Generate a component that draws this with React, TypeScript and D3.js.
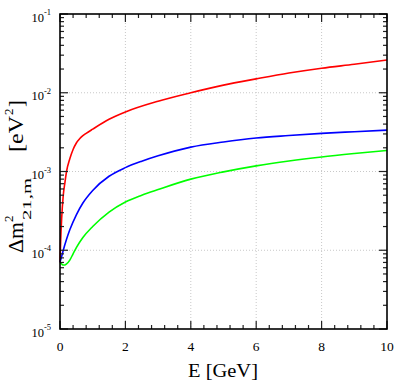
import React from "react";
import * as d3 from "d3";

// energy grid (GeV) and values of Δm²_21,m (eV²)
const energyRed = [0, 0.02, 0.05, 0.1, 0.15, 0.2, 0.3, 0.4, 0.5, 0.6, 0.7, 0.8, 1, 1.5, 2, 3, 4, 5, 6, 7, 8, 9, 10];
const redValues = [7e-5, 1.3e-4, 2.5e-4, 5e-4, 7.2e-4, 1e-3, 1.45e-3, 1.9e-3, 2.3e-3, 2.6e-3, 2.85e-3, 3.05e-3, 3.45e-3, 4.6e-3, 5.7e-3, 7.8e-3, 1.0e-2, 1.25e-2, 1.5e-2, 1.78e-2, 2.05e-2, 2.3e-2, 2.6e-2];

const energyBlue = [0, 0.05, 0.1, 0.2, 0.3, 0.5, 0.7, 1, 1.5, 2, 2.5, 3, 4, 5, 6, 7, 8, 9, 10];
const blueValues = [7.1e-5, 8.3e-5, 1.0e-4, 1.38e-4, 1.82e-4, 2.82e-4, 3.98e-4, 5.75e-4, 8.7e-4, 1.12e-3, 1.35e-3, 1.58e-3, 2.04e-3, 2.37e-3, 2.66e-3, 2.86e-3, 3.05e-3, 3.2e-3, 3.35e-3];

const energyGreen = [0, 0.05, 0.1, 0.15, 0.2, 0.3, 0.4, 0.5, 0.7, 1, 1.5, 2, 2.5, 3, 4, 5, 6, 7, 8, 9, 10];
const greenValues = [7e-5, 6.7e-5, 6.5e-5, 6.5e-5, 6.7e-5, 7.5e-5, 9e-5, 1.08e-4, 1.45e-4, 2.0e-4, 3.05e-4, 4.1e-4, 5.0e-4, 5.9e-4, 8.0e-4, 9.9e-4, 1.18e-3, 1.36e-3, 1.53e-3, 1.69e-3, 1.85e-3];

const xTicks = [0, 2, 4, 6, 8, 10];
const yDecades = [-5, -4, -3, -2, -1];

const series = [
  { x: energyRed, y: redValues, color: "#ff0000" },
  { x: energyBlue, y: blueValues, color: "#0000ff" },
  { x: energyGreen, y: greenValues, color: "#00ff00" },
];

const width = 407;
const height = 382;
const left = 60;
const right = 387;
const top = 14;
const bottom = 329;

export default function App() {
  const x = d3.scaleLinear().domain([0, 10]).range([left, right]);
  const y = d3.scaleLog().domain([1e-5, 1e-1]).range([bottom, top]);

  const line = d3
    .line<[number, number]>()
    .x((d) => x(d[0]))
    .y((d) => y(d[1]))
    .curve(d3.curveMonotoneX);

  const xMinor = d3.range(0, 10.001, 0.4).filter((v) => Math.abs(v / 2 - Math.round(v / 2)) > 1e-6);
  const yMinor: number[] = [];
  yDecades.slice(0, -1).forEach((d) => {
    for (let k = 2; k <= 9; k++) yMinor.push(k * Math.pow(10, d));
  });

  const font = "'Liberation Serif', 'DejaVu Serif', serif";
  const tickColor = "#222";

  return (
    <svg width={width} height={height} style={{ position: "absolute", left: 0, top: 0, background: "#fff" }}>
      {/* grid */}
      <g stroke="#c8c8c8" strokeWidth={1} strokeDasharray="1,2">
        {xTicks.slice(1, -1).map((t) => (
          <line key={"gx" + t} x1={x(t)} x2={x(t)} y1={top} y2={bottom} />
        ))}
        {yDecades.slice(1, -1).map((d) => (
          <line key={"gy" + d} x1={left} x2={right} y1={y(Math.pow(10, d))} y2={y(Math.pow(10, d))} />
        ))}
      </g>

      {/* curves */}
      {series.map((s, i) => (
        <path
          key={i}
          d={line(s.x.map((v, j) => [v, s.y[j]] as [number, number])) || ""}
          fill="none"
          stroke={s.color}
          strokeWidth={1.6}
        />
      ))}

      {/* ticks */}
      <g stroke={tickColor} strokeWidth={1.2}>
        {xTicks.map((t) => (
          <g key={"xt" + t}>
            <line x1={x(t)} x2={x(t)} y1={bottom} y2={bottom - 8} />
            <line x1={x(t)} x2={x(t)} y1={top} y2={top + 8} />
          </g>
        ))}
        {xMinor.map((t) => (
          <g key={"xm" + t}>
            <line x1={x(t)} x2={x(t)} y1={bottom} y2={bottom - 4} />
            <line x1={x(t)} x2={x(t)} y1={top} y2={top + 4} />
          </g>
        ))}
        {yDecades.map((d) => (
          <g key={"yt" + d}>
            <line x1={left} x2={left + 8} y1={y(Math.pow(10, d))} y2={y(Math.pow(10, d))} />
            <line x1={right} x2={right - 8} y1={y(Math.pow(10, d))} y2={y(Math.pow(10, d))} />
          </g>
        ))}
        {yMinor.map((v) => (
          <g key={"ym" + v}>
            <line x1={left} x2={left + 4} y1={y(v)} y2={y(v)} />
            <line x1={right} x2={right - 4} y1={y(v)} y2={y(v)} />
          </g>
        ))}
      </g>

      {/* frame */}
      <rect x={left} y={top} width={right - left} height={bottom - top} fill="none" stroke="#000" strokeWidth={1.6} />

      {/* tick labels */}
      <g fontFamily={font} fill="#000">
        {xTicks.map((t) => (
          <text key={"xl" + t} x={x(t)} y={351} fontSize={13.5} textAnchor="middle">
            {t}
          </text>
        ))}
        {yDecades.map((d) => (
          <text key={"yl" + d} x={51} y={y(Math.pow(10, d)) + 7.5} fontSize={12.5} textAnchor="end">
            10
            <tspan fontSize={8.5} dy={-6.5}>
              {d}
            </tspan>
          </text>
        ))}
      </g>

      {/* axis titles */}
      <text
        x={188}
        y={377}
        fontFamily={font}
        fontSize={18}
        textLength={70}
        lengthAdjust="spacingAndGlyphs"
      >
        E [GeV]
      </text>
      <g transform="rotate(-90)" fontFamily={font} fill="#000">
        <text x={-253} y={22.5} fontSize={20} textLength={31} lengthAdjust="spacingAndGlyphs">
          Δm
        </text>
        <text x={-222} y={13} fontSize={13}>
          2
        </text>
        <text x={-220} y={31} fontSize={13.5} textLength={42} lengthAdjust="spacingAndGlyphs">
          21,m
        </text>
        <text x={-152} y={22.5} fontSize={20} textLength={36} lengthAdjust="spacingAndGlyphs">
          [eV
        </text>
        <text x={-115} y={13} fontSize={13}>
          2
        </text>
        <text x={-107} y={22.5} fontSize={20}>
          ]
        </text>
      </g>
    </svg>
  );
}
